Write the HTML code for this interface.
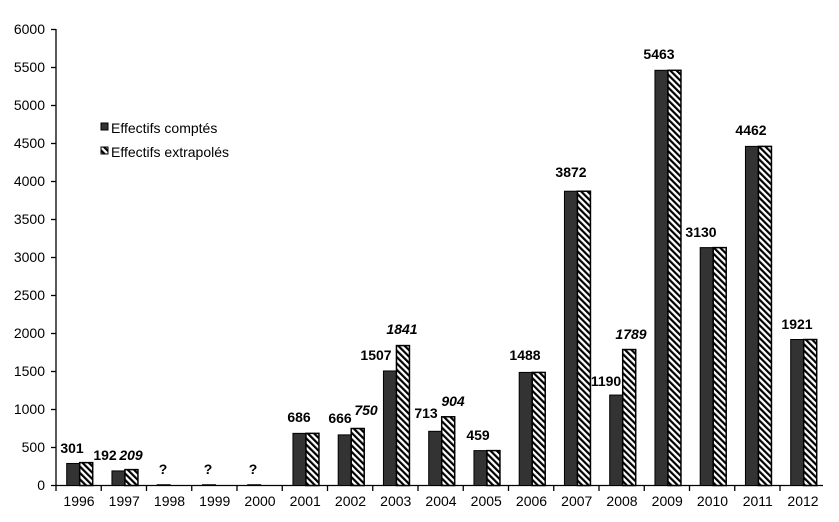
<!DOCTYPE html>
<html><head><meta charset="utf-8"><style>
html,body{margin:0;padding:0;background:#fff;}
svg{display:block;font-family:"Liberation Sans",Arial,sans-serif;}
</style></head><body>
<svg width="839" height="522" viewBox="0 0 839 522" xmlns="http://www.w3.org/2000/svg">
<defs>
<pattern id="h" patternUnits="userSpaceOnUse" width="4.5" height="4.5" patternTransform="rotate(-45)">
<rect width="4.5" height="4.5" fill="#fff"/><rect width="2.2" height="4.5" fill="#000"/>
</pattern>
</defs>
<g font-size="14" fill="#000" text-anchor="end">
<text x="45" y="490">0</text><text x="45" y="452">500</text><text x="45" y="414">1000</text>
<text x="45" y="376">1500</text><text x="45" y="338">2000</text><text x="45" y="300">2500</text>
<text x="45" y="262">3000</text><text x="45" y="224">3500</text><text x="45" y="186">4000</text>
<text x="45" y="148">4500</text><text x="45" y="110">5000</text><text x="45" y="72">5500</text>
<text x="45" y="34">6000</text>
</g>
<g stroke="#000" stroke-width="1.3">
<line x1="56" y1="29" x2="56" y2="486"/>
<line x1="51" y1="485.5" x2="823" y2="485.5"/>
<line x1="51" y1="447.5" x2="56" y2="447.5"/><line x1="51" y1="409.5" x2="56" y2="409.5"/>
<line x1="51" y1="371.5" x2="56" y2="371.5"/><line x1="51" y1="333.5" x2="56" y2="333.5"/>
<line x1="51" y1="295.5" x2="56" y2="295.5"/><line x1="51" y1="257.5" x2="56" y2="257.5"/>
<line x1="51" y1="219.5" x2="56" y2="219.5"/><line x1="51" y1="181.5" x2="56" y2="181.5"/>
<line x1="51" y1="143.5" x2="56" y2="143.5"/><line x1="51" y1="105.5" x2="56" y2="105.5"/>
<line x1="51" y1="67.5" x2="56" y2="67.5"/><line x1="51" y1="29.5" x2="56" y2="29.5"/>
</g>
<g id="bars"></g>
<g font-size="14" text-anchor="middle" id="xl"></g>
<g font-size="14" font-weight="bold" text-anchor="middle">
<text x="72" y="453">301</text>
<text x="105" y="460">192</text><text x="131" y="460" font-style="italic">209</text>
<text x="163" y="474">?</text><text x="208" y="474">?</text><text x="253" y="474">?</text>
<text x="299" y="422">686</text>
<text x="340" y="423">666</text><text x="366" y="415" font-style="italic">750</text>
<text x="376" y="360">1507</text><text x="402" y="334" font-style="italic">1841</text>
<text x="426" y="418">713</text><text x="453" y="406" font-style="italic">904</text>
<text x="478" y="440">459</text>
<text x="525" y="360">1488</text>
<text x="571" y="177">3872</text>
<text x="606" y="386">1190</text><text x="631" y="339" font-style="italic">1789</text>
<text x="659" y="59">5463</text>
<text x="701" y="237">3130</text>
<text x="751" y="135">4462</text>
<text x="797" y="329">1921</text>
</g>
<rect x="101" y="123" width="7" height="7" fill="#333" stroke="#000" stroke-width="1"/>
<text x="111" y="133" font-size="14">Effectifs comptés</text>
<rect x="101" y="147" width="7" height="7" fill="url(#h)" stroke="#000" stroke-width="1"/>
<text x="111" y="157" font-size="14">Effectifs extrapolés</text>
<script>
var d=[[290,301],[192,209],[10,0],[10,0],[10,0],[686,686],[666,750],[1507,1841],[713,904],[459,459],[1488,1488],[3872,3872],[1190,1789],[5463,5463],[3130,3130],[4462,4462],[1921,1921]];
var ns="http://www.w3.org/2000/svg",g=document.getElementById("bars"),xl=document.getElementById("xl");
function r(x,y,w,h,f,sw){var e=document.createElementNS(ns,"rect");e.setAttribute("x",x);e.setAttribute("y",y);e.setAttribute("width",w);e.setAttribute("height",h);e.setAttribute("fill",f);e.setAttribute("stroke","#000");e.setAttribute("stroke-width",sw);g.appendChild(e);}
for(var i=0;i<17;i++){var s=56+45.25*i;
var l=document.createElementNS(ns,"line");l.setAttribute("x1",s);l.setAttribute("x2",s);l.setAttribute("y1",485);l.setAttribute("y2",491);l.setAttribute("stroke","#000");l.setAttribute("stroke-width","1.3");g.appendChild(l);
var h1=d[i][0]*0.076,h2=d[i][1]*0.076;
r(s+10.7,485.5-h1,13,h1,"#333",1);
if(h2>0)r(s+23.7,485.5-h2,13,h2,"url(#h)",1.5);
var t=document.createElementNS(ns,"text");t.setAttribute("x",s+23);t.setAttribute("y",506);t.textContent=1996+i;xl.appendChild(t);}
</script>
</svg>
</body></html>
